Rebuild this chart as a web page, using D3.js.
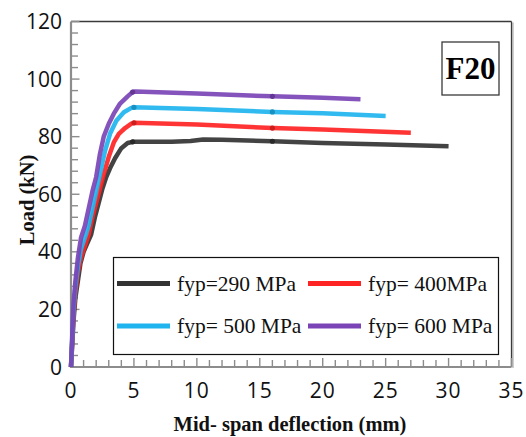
<!DOCTYPE html>
<html>
<head>
<meta charset="utf-8">
<script src="https://cdn.jsdelivr.net/npm/d3@7"></script>
<style>
  html, body { margin: 0; padding: 0; background: #fff; }
  svg { display: block; }
</style>
</head>
<body>
<svg id="chart" width="526" height="437"></svg>
<script>
// Load–deflection curves for specimen F20 at four yield strengths of the plate
const seriesNames = ["fyp=290 MPa", "fyp= 400MPa", "fyp= 500 MPa", "fyp= 600 MPa"];
const seriesColors = ["#333333", "#ff2424", "#1fb4ee", "#7b44b6"];

// [deflection (mm), load (kN)]
const fyp290 = [[0,0],[0.1,8],[0.2,16],[0.35,24],[0.55,30],[0.75,36],[1.0,40],[1.3,43],[1.6,46],[1.9,52],[2.2,57],[2.5,62],[2.8,66],[3.1,69],[3.5,72.5],[4.0,76],[4.5,77.8],[4.9,78.2],[6,78.2],[8,78.2],[9.5,78.5],[10.5,79.0],[12,78.9],[16,78.4],[20,77.8],[25,77.3],[30,76.7]];
const fyp400 = [[0,0],[0.1,9],[0.2,18],[0.35,26],[0.55,33],[0.8,38],[1.1,42],[1.4,46],[1.7,52],[2.0,57],[2.3,62],[2.6,67],[3.0,73],[3.4,78],[3.8,81],[4.3,83],[4.8,84.5],[5.0,84.8],[10,84.2],[16,83.0],[20,82.5],[27,81.4]];
const fyp500 = [[0,0],[0.1,10],[0.2,20],[0.35,28],[0.55,35],[0.8,41],[1.1,45],[1.4,49],[1.7,55],[2.0,61],[2.3,67],[2.7,75],[3.1,81],[3.6,85.5],[4.2,88.5],[4.8,90.0],[5.0,90.2],[10,89.6],[16,88.6],[20,88.1],[25,87.2]];
const fyp600 = [[0,0],[0.1,11],[0.2,22],[0.35,30],[0.55,38],[0.8,45],[1.1,49],[1.4,55],[1.7,61],[2.0,66],[2.3,74],[2.6,80],[3.0,84.5],[3.4,88],[3.9,91.5],[4.5,94],[4.9,95.5],[5.1,95.7],[10,95],[16,94],[20,93.5],[23,93.0]];
const seriesData = [fyp290, fyp400, fyp500, fyp600];

// joints marked on each curve
const markerX = [4.9, 16];

const xTicks = [0, 5, 10, 15, 20, 25, 30, 35];
const yTicks = [0, 20, 40, 60, 80, 100, 120];

const svg = d3.select("#chart");
const plotLeft = 71, plotRight = 511.5, plotTop = 21.5, plotBottom = 367;

const x = d3.scaleLinear().domain([0, 35]).range([plotLeft, plotRight]);
const y = d3.scaleLinear().domain([0, 120]).range([plotBottom, plotTop]);

// frame: dark top/right edges with a faint shadow on the right
svg.append("line").attr("x1", plotRight + 1.5).attr("x2", plotRight + 1.5).attr("y1", plotTop + 1).attr("y2", plotBottom + 1)
  .attr("stroke", "#cfcfcf").attr("stroke-width", 2);
svg.append("line").attr("x1", plotLeft).attr("x2", plotRight).attr("y1", plotTop).attr("y2", plotTop)
  .attr("stroke", "#3a3a3a").attr("stroke-width", 1.3);
svg.append("line").attr("x1", plotRight).attr("x2", plotRight).attr("y1", plotTop).attr("y2", plotBottom)
  .attr("stroke", "#3a3a3a").attr("stroke-width", 1.3);

// inward minor/major ticks
const gTicks = svg.append("g").attr("stroke", "#8c8c8c").attr("stroke-width", 1.4);
d3.range(0, 121, 4).forEach(v => {
  const major = v % 20 === 0;
  gTicks.append("line").attr("x1", plotLeft).attr("x2", plotLeft + (major ? 8.5 : 7))
    .attr("y1", y(v)).attr("y2", y(v));
});
d3.range(0, 36, 1).forEach(v => {
  const major = v % 5 === 0;
  gTicks.append("line").attr("x1", x(v)).attr("x2", x(v))
    .attr("y1", plotBottom).attr("y2", plotBottom - (major ? 9 : 7));
});

// gray axis lines
svg.append("line").attr("x1", plotLeft).attr("x2", plotLeft).attr("y1", plotTop).attr("y2", plotBottom + 1)
  .attr("stroke", "#8c8c8c").attr("stroke-width", 2.2);
svg.append("line").attr("x1", plotLeft - 1).attr("x2", plotRight).attr("y1", plotBottom).attr("y2", plotBottom)
  .attr("stroke", "#8c8c8c").attr("stroke-width", 2.2);

// tick labels
const tickFont = "'Open Sans', sans-serif";
svg.append("g").selectAll("text").data(yTicks).join("text")
  .attr("x", 62).attr("y", d => y(d)).attr("dy", "0.36em")
  .attr("text-anchor", "end").attr("font-family", tickFont).attr("font-size", 21)
  .attr("fill", "#111").text(d => d);
svg.append("g").selectAll("text").data(xTicks).join("text")
  .attr("x", d => x(d)).attr("y", 390).attr("dy", "0.36em")
  .attr("text-anchor", "middle").attr("font-family", tickFont).attr("font-size", 21)
  .attr("letter-spacing", 1).attr("fill", "#111").text(d => d);

// axis titles
const serif = "'Liberation Serif', 'Times New Roman', serif";
svg.append("text").attr("x", 290).attr("y", 431).attr("text-anchor", "middle")
  .attr("font-family", serif).attr("font-weight", "bold").attr("font-size", 20.5)
  .attr("fill", "#111").text("Mid- span deflection (mm)");
svg.append("text").attr("transform", "translate(34,200) rotate(-90)").attr("text-anchor", "middle")
  .attr("font-family", serif).attr("font-weight", "bold").attr("font-size", 20.5)
  .attr("fill", "#111").text("Load (kN)");

// curves
const line = d3.line().x(d => x(d[0])).y(d => y(d[1]));
const gCurves = svg.append("g");
seriesData.forEach((data, i) => {
  gCurves.append("path").datum(data).attr("d", line)
    .attr("fill", "none").attr("stroke", seriesColors[i]).attr("stroke-width", 4.5)
    .attr("stroke-linejoin", "round").attr("stroke-opacity", 0.92);
  markerX.forEach(mx => {
    const pt = data.reduce((a, b) => Math.abs(b[0] - mx) < Math.abs(a[0] - mx) ? b : a);
    gCurves.append("circle").attr("cx", x(pt[0])).attr("cy", y(pt[1])).attr("r", 2.6)
      .attr("fill", d3.color(seriesColors[i]).darker(0.6));
  });
});

// specimen label
svg.append("rect").attr("x", 442).attr("y", 42).attr("width", 57).attr("height", 53)
  .attr("fill", "#fff").attr("stroke", "#3a3a3a").attr("stroke-width", 1.3);
svg.append("text").attr("x", 470.5).attr("y", 79).attr("text-anchor", "middle")
  .attr("font-family", serif).attr("font-weight", "bold").attr("font-size", 31)
  .attr("fill", "#000").text("F20");

// legend
const legend = svg.append("g");
legend.append("rect").attr("x", 113.5).attr("y", 257.5).attr("width", 385).attr("height", 97)
  .attr("fill", "#fff").attr("stroke", "#111").attr("stroke-width", 1.2);
const legendPos = [
  { lx: 117, tx: 177, cy: 283.5 },
  { lx: 308, tx: 368, cy: 283.5 },
  { lx: 117, tx: 177, cy: 326 },
  { lx: 308, tx: 368, cy: 326 }
];
seriesNames.forEach((name, i) => {
  const p = legendPos[i];
  legend.append("line").attr("x1", p.lx).attr("x2", p.lx + 53).attr("y1", p.cy).attr("y2", p.cy)
    .attr("stroke", seriesColors[i]).attr("stroke-width", 5);
  legend.append("text").attr("x", p.tx).attr("y", p.cy + 7)
    .attr("font-family", serif).attr("font-size", 21.5).attr("fill", "#111").text(name);
});
</script>
</body>
</html>
